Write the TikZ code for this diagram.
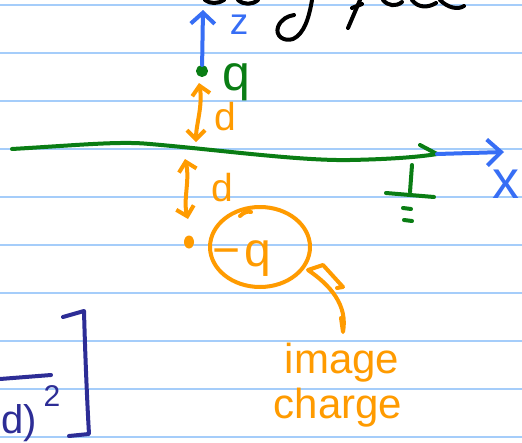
\documentclass[tikz,border=0pt]{standalone}
\usepackage{fontspec}
\setmainfont{Liberation Sans}
\usetikzlibrary{arrows.meta,shapes.geometric}
\definecolor{ruleblue}{RGB}{165,205,250}
\definecolor{penorange}{RGB}{255,155,0}
\definecolor{pengreen}{RGB}{10,125,20}
\definecolor{penblue}{RGB}{55,110,245}
\definecolor{pennavy}{RGB}{45,45,150}
\begin{document}
\begin{tikzpicture}[x=1pt,y=-1pt,line cap=round,line join=round,
  pen/.style={line width=4pt},
  barb/.style={{Straight Barb[length=9pt,width=18pt]}-{Straight Barb[length=9pt,width=18pt]}},
  lbl/.style={inner sep=0pt,font=\fontsize{#1}{#1}\selectfont},
  lbl/.default=40]
\useasboundingbox (0,0) rectangle (522,442);
\clip (0,0) rectangle (522,442);
\fill[white] (0,0) rectangle (522,442);
% notebook rules
\foreach \y in {5,53,...,437} \draw[ruleblue,line width=2pt] (0,\y) -- (522,\y);
% black handwriting fragments at the top (cut off)
\draw[pen,black] (205,0) .. controls (210,4) and (218,4) .. (224,0);
\draw[pen,black] (238,0) .. controls (244,5) and (252,5) .. (258,0);
\draw[pen,black] (312,0) .. controls (309,18) and (304,34) .. (293,39) .. controls (284,42) and (275,36) .. (278,27) .. controls (281,19) and (288,16) .. (294,15);
\draw[pen,black] (360,0) -- (348,28);
\draw[pen,black] (352,8) -- (362,4);
\draw[pen,black] (383,0) .. controls (388,6) and (396,7) .. (402,2);
\draw[pen,black] (412,0) .. controls (418,8) and (428,8) .. (436,3);
\draw[pen,black] (440,0) .. controls (448,8) and (458,10) .. (464,6);
% charge q and z axis
\node[circle,draw=pengreen,fill=pengreen,line width=2pt,minimum size=10pt,inner sep=0pt] (q) at (202,71) {};
\coordinate (ztip) at (203,10);
\draw[pen,penblue,-{Straight Barb[length=11pt,width=24pt]}] (q) -- (ztip);
\node[lbl=37,penblue,anchor=base] (zlabel) at (239,34) {z};
\node[lbl=50,pengreen,anchor=base] (qlabel) at (236,90) {q};
% upper distance d
\coordinate (dtop) at (199,83);
\coordinate (dbot) at (196,142);
\draw[pen,penorange,barb] (dtop) .. controls (203,105) and (196,125) .. (dbot);
\node[lbl=39,penorange,anchor=base] (d1) at (225,130) {d};
% conducting plane
\coordinate (pl) at (12,149);
\coordinate (pr) at (437,154);
\draw[pen,pengreen] (pl) .. controls (80,145) and (120,141) .. (150,144) .. controls (220,150) and (300,161) .. (350,160) .. controls (400,159) and (425,156) .. (pr);
\draw[pen,pengreen] (420,145) -- (pr);
% x axis
\coordinate (xtip) at (504,152);
\draw[pen,penblue,-{Straight Barb[length=14pt,width=26pt]}] (pr) -- (xtip);
\node[lbl=54,penblue] (xlabel) at (506,184) {x};
% ground symbol
\draw[pen,pengreen] (412,165) -- (410,192);
\draw[pen,pengreen] (386,193) -- (434,197);
\draw[pen,pengreen] (403,208) -- (411,209);
\draw[pen,pengreen] (404,220) -- (412,221);
% lower distance d
\coordinate (dtop2) at (185,159);
\coordinate (dbot2) at (188,219);
\draw[pen,penorange,barb] (dtop2) .. controls (190,180) and (183,200) .. (dbot2);
\node[lbl=39,penorange,anchor=base] (d2) at (222,201) {d};
% image charge
\node[ellipse,fill=penorange,minimum width=10pt,minimum height=13pt,inner sep=0pt] (img) at (189,242) {};
\draw[pen,penorange] (260,247) ellipse [x radius=50,y radius=40];
\draw[pen,penorange] (240,216) .. controls (244,212) and (248,211) .. (251,212);
\node[lbl=48,penorange,anchor=base] (mq) at (242,266) {−\hspace{4pt}q};
% hollow pointer arrow
\draw[pen,penorange] (337,288) -- (343,287) -- (323,265) -- (308,270) .. controls (330,285) and (348,305) .. (343,332) -- (341,318);
\node[lbl=42,penorange,anchor=base] (t1) at (342,373) {image};
\node[lbl=42,penorange,anchor=base] (t2) at (338,418) {charge};
% bottom-left fragment of a formula
\draw[pen,pennavy] (0,379) -- (51,375);
\draw[pen,pennavy] (63,317) -- (84,311) .. controls (85,350) and (87,400) .. (89,434) -- (69,436);
\node[lbl=40,pennavy,anchor=base east] (frag) at (37,433) {d)};
\node[lbl=30,pennavy] (sq) at (52,396) {2};
\end{tikzpicture}
\end{document}
